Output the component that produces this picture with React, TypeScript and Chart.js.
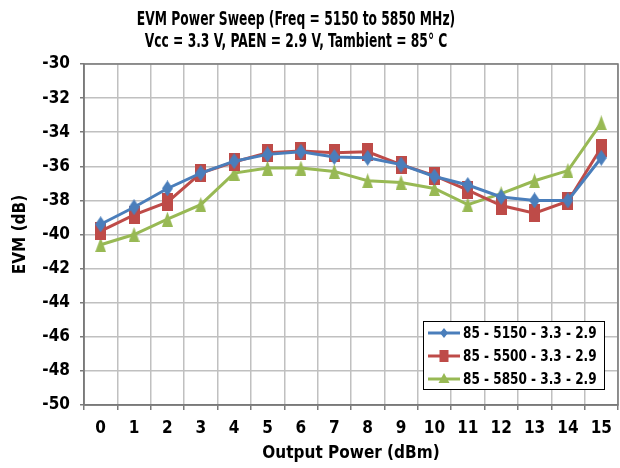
import React, { useEffect, useRef } from "react";
import { Chart, registerables } from "chart.js";

Chart.register(...registerables);

const categories = ["0", "1", "2", "3", "4", "5", "6", "7", "8", "9", "10", "11", "12", "13", "14", "15"];
const series5150 = [-39.4, -38.4, -37.3, -36.4, -35.7, -35.3, -35.15, -35.45, -35.5, -35.9, -36.6, -37.1, -37.8, -38.0, -38.0, -35.5];
const series5500 = [-39.8, -38.85, -38.1, -36.4, -35.75, -35.2, -35.1, -35.2, -35.15, -35.9, -36.55, -37.4, -38.3, -38.75, -38.05, -34.9];
const series5850 = [-40.6, -40.0, -39.1, -38.25, -36.4, -36.1, -36.1, -36.3, -36.85, -36.95, -37.3, -38.25, -37.6, -36.85, -36.25, -33.45];
const seriesNames = ["85 - 5150 - 3.3 - 2.9", "85 - 5500 - 3.3 - 2.9", "85 - 5850 - 3.3 - 2.9"];
const titleLines = ["EVM Power Sweep (Freq = 5150 to 5850 MHz)", "Vcc = 3.3 V, PAEN = 2.9 V, Tambient = 85° C"];
const yTitle = "EVM (dB)";
const xTitle = "Output Power (dBm)";

const FONT = "'DejaVu Sans Condensed', 'Liberation Sans Narrow', sans-serif";
const BLUE = "#4a7ebb";
const RED = "#be4b48";
const GREEN = "#98b954";
const FRAME = "#7a7a7a";
const GRID = "#c0c0c0";

function shapePath(ctx: CanvasRenderingContext2D, kind: string, x: number, y: number, w: number, h: number) {
  ctx.beginPath();
  if (kind === "diamond") {
    ctx.moveTo(x, y - h / 2);
    ctx.lineTo(x + w / 2, y);
    ctx.lineTo(x, y + h / 2);
    ctx.lineTo(x - w / 2, y);
  } else if (kind === "rect") {
    ctx.rect(x - w / 2, y - h / 2, w, h);
  } else {
    ctx.moveTo(x, y - h / 2);
    ctx.lineTo(x + w / 2, y + h / 2);
    ctx.lineTo(x - w / 2, y + h / 2);
  }
  ctx.closePath();
}

function makeMarker(kind: string, w: number, h: number, color: string): HTMLCanvasElement {
  const c = document.createElement("canvas");
  c.width = w;
  c.height = h;
  const ctx = c.getContext("2d")!;
  ctx.fillStyle = color;
  shapePath(ctx, kind, w / 2, h / 2, w, h);
  ctx.fill();
  return c;
}

const markerKinds = ["diamond", "rect", "triangle"];

// Condensed title drawn as real canvas text
const titlePlugin = {
  id: "condensedTitle",
  afterDraw(chart: any) {
    const ctx = chart.ctx as CanvasRenderingContext2D;
    ctx.save();
    ctx.font = "bold 19px " + FONT;
    ctx.fillStyle = "#000000";
    ctx.textAlign = "center";
    ctx.textBaseline = "alphabetic";
    const cx = 296;
    titleLines.forEach((line, i) => {
      ctx.save();
      ctx.translate(cx, 25 + i * 22);
      ctx.scale(0.72, 1);
      ctx.fillText(line, 0, 0);
      ctx.restore();
    });
    ctx.restore();
  },
};

const framePlugin = {
  id: "frame",
  beforeDatasetsDraw(chart: any) {
    const ctx = chart.ctx as CanvasRenderingContext2D;
    const a = chart.chartArea;
    ctx.save();
    ctx.strokeStyle = FRAME;
    ctx.lineWidth = 1.5;
    ctx.strokeRect(a.left, a.top, a.right - a.left, a.bottom - a.top);
    ctx.restore();
  },
};

const legendPlugin = {
  id: "insideLegend",
  afterDatasetsDraw(chart: any) {
    const ctx = chart.ctx as CanvasRenderingContext2D;
    const area = chart.chartArea;
    const w = 181, h = 68;
    const x0 = area.right - 14 - w;
    const y0 = area.bottom - 16 - h;
    ctx.save();
    ctx.fillStyle = "#ffffff";
    ctx.fillRect(x0, y0, w, h);
    ctx.strokeStyle = "#000000";
    ctx.lineWidth = 1;
    ctx.strokeRect(x0 + 0.5, y0 + 0.5, w, h);
    ctx.textBaseline = "middle";
    ctx.textAlign = "left";
    chart.data.datasets.forEach((ds: any, i: number) => {
      const cy = y0 + 12 + i * 23;
      ctx.strokeStyle = ds.borderColor;
      ctx.lineWidth = 3;
      ctx.beginPath();
      ctx.moveTo(x0 + 5, cy);
      ctx.lineTo(x0 + 37, cy);
      ctx.stroke();
      const kind = markerKinds[i];
      ctx.fillStyle = ds.borderColor;
      if (kind === "diamond") shapePath(ctx, kind, x0 + 21, cy, 8, 10);
      else if (kind === "rect") shapePath(ctx, kind, x0 + 21, cy, 9, 12);
      else shapePath(ctx, kind, x0 + 21, cy - 1, 11, 10);
      ctx.fill();
      ctx.save();
      ctx.translate(x0 + 40, cy + 1);
      ctx.scale(0.84, 1);
      ctx.font = "bold 16px " + FONT;
      ctx.fillStyle = "#000000";
      ctx.fillText(ds.label, 0, 0);
      ctx.restore();
    });
    ctx.restore();
  },
};

export default function App() {
  const ref = useRef<HTMLCanvasElement>(null);
  useEffect(() => {
    document.body.style.margin = "0";
    const blueMarker = makeMarker("diamond", 11, 16, BLUE);
    const redMarker = makeMarker("rect", 11, 18, RED);
    const greenMarker = makeMarker("triangle", 11, 15, GREEN);
    const chart = new Chart(ref.current!, {
      type: "line",
      data: {
        labels: categories,
        datasets: [
          { label: seriesNames[0], data: series5150, borderColor: BLUE, backgroundColor: BLUE, pointStyle: blueMarker, borderWidth: 3 },
          { label: seriesNames[1], data: series5500, borderColor: RED, backgroundColor: RED, pointStyle: redMarker, borderWidth: 3 },
          { label: seriesNames[2], data: series5850, borderColor: GREEN, backgroundColor: GREEN, pointStyle: greenMarker, borderWidth: 3 },
        ] as any,
      },
      options: {
        animation: false,
        responsive: false,
        layout: { autoPadding: false, padding: { left: 0, right: 2, top: 64, bottom: 0 } },
        plugins: {
          legend: { display: false },
          tooltip: { enabled: false },
          title: { display: false },
        },
        scales: {
          x: {
            type: "category",
            offset: true,
            grid: { offset: true, color: GRID, lineWidth: 1.5, drawTicks: true, tickLength: 5, tickColor: FRAME },
            border: { color: FRAME, width: 1.5 },
            ticks: { color: "#000000", font: { family: FONT, size: 17, weight: "bold" }, padding: 8, maxRotation: 0, autoSkip: false },
            title: { display: true, text: xTitle, color: "#000000", font: { family: FONT, size: 17, weight: "bold" }, padding: { top: 4, bottom: 4 } },
            afterFit: (s: any) => { s.height = 63; s.paddingLeft = 0; s.paddingRight = 0; },
          },
          y: {
            min: -50,
            max: -30,
            ticks: { stepSize: 2, color: "#000000", font: { family: FONT, size: 17, weight: "bold" }, padding: 10 },
            grid: { color: GRID, lineWidth: 1.5, tickLength: 4, tickColor: FRAME },
            border: { color: FRAME, width: 1.5 },
            title: { display: true, text: yTitle, color: "#000000", font: { family: FONT, size: 17, weight: "bold" }, padding: { top: 10, bottom: 6 } },
            afterFit: (s: any) => { s.width = 84; s.paddingTop = 0; s.paddingBottom = 0; },
          },
        },
      },
      plugins: [framePlugin, legendPlugin, titlePlugin],
    });
    return () => chart.destroy();
  }, []);
  return <canvas ref={ref} width={620} height={468} style={{ display: "block" }} />;
}
